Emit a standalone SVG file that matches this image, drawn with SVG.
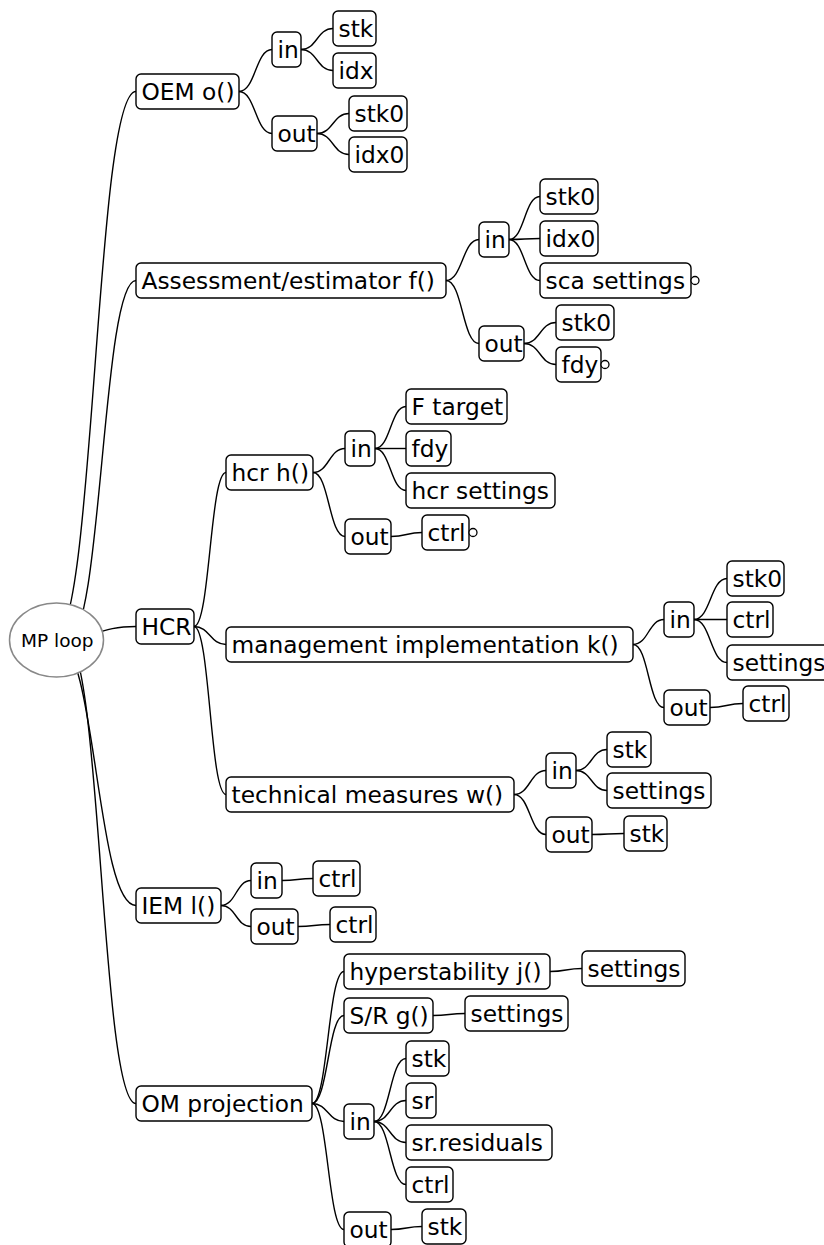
<svg xmlns="http://www.w3.org/2000/svg" width="824" height="1245" viewBox="0 0 824 1245">
<style>
.b{fill:#fff;stroke:#000;stroke-width:1.4}
.t{font-family:"DejaVu Sans",sans-serif;font-size:23.3px;fill:#000}
.c{fill:none;stroke:#000;stroke-width:1.4}
.o{fill:#fff;stroke:#000;stroke-width:1.3}
</style>
<rect width="824" height="1245" fill="#fff"/>
<g id="connectors">
<path class="c" d="M54,640 C95,640 95,91.5 136,91.5"/>
<path class="c" d="M68,640 C102,640 102,280.5 136,280.5"/>
<path class="c" d="M56.5,640 C96.25,640 96.25,626.5 136,626.5"/>
<path class="c" d="M56.5,640 C96.25,640 96.25,905.5 136,905.5"/>
<path class="c" d="M66,640 C101,640 101,1103.5 136,1103.5"/>
<path class="c" d="M239,91.5 C255.5,91.5 255.5,49.5 272,49.5"/>
<path class="c" d="M239,91.5 C255.5,91.5 255.5,133.5 272,133.5"/>
<path class="c" d="M301,49.5 C317,49.5 317,28.5 333,28.5"/>
<path class="c" d="M301,49.5 C317,49.5 317,70.5 333,70.5"/>
<path class="c" d="M317,133.5 C333,133.5 333,113.5 349,113.5"/>
<path class="c" d="M317,133.5 C333,133.5 333,154.5 349,154.5"/>
<path class="c" d="M446,280.5 C462.5,280.5 462.5,239.5 479,239.5"/>
<path class="c" d="M446,280.5 C462.5,280.5 462.5,343.5 479,343.5"/>
<path class="c" d="M509,239.5 C524.5,239.5 524.5,196.5 540,196.5"/>
<path class="c" d="M509,239.5 C524.5,239.5 524.5,238.5 540,238.5"/>
<path class="c" d="M509,239.5 C524.5,239.5 524.5,280.5 540,280.5"/>
<path class="c" d="M524,343.5 C540,343.5 540,322.5 556,322.5"/>
<path class="c" d="M524,343.5 C540,343.5 540,364.5 556,364.5"/>
<path class="c" d="M194,626.5 C210,626.5 210,472.5 226,472.5"/>
<path class="c" d="M194,626.5 C210,626.5 210,644.5 226,644.5"/>
<path class="c" d="M194,626.5 C210,626.5 210,794.5 226,794.5"/>
<path class="c" d="M313,472.5 C329,472.5 329,448.5 345,448.5"/>
<path class="c" d="M313,472.5 C329,472.5 329,536.5 345,536.5"/>
<path class="c" d="M375,448.5 C390.5,448.5 390.5,406.5 406,406.5"/>
<path class="c" d="M375,448.5 C390.5,448.5 390.5,448.5 406,448.5"/>
<path class="c" d="M375,448.5 C390.5,448.5 390.5,490.5 406,490.5"/>
<path class="c" d="M391,536.5 C406.5,536.5 406.5,532.5 422,532.5"/>
<path class="c" d="M633,644.5 C648.5,644.5 648.5,619.5 664,619.5"/>
<path class="c" d="M633,644.5 C648.5,644.5 648.5,707.5 664,707.5"/>
<path class="c" d="M694,619.5 C710.5,619.5 710.5,578.5 727,578.5"/>
<path class="c" d="M694,619.5 C710.5,619.5 710.5,619.5 727,619.5"/>
<path class="c" d="M694,619.5 C710.5,619.5 710.5,662.5 727,662.5"/>
<path class="c" d="M710,707.5 C726.5,707.5 726.5,703.5 743,703.5"/>
<path class="c" d="M514,794.5 C530,794.5 530,770.5 546,770.5"/>
<path class="c" d="M514,794.5 C530,794.5 530,834.5 546,834.5"/>
<path class="c" d="M576,770.5 C591.5,770.5 591.5,749.5 607,749.5"/>
<path class="c" d="M576,770.5 C591.5,770.5 591.5,790.5 607,790.5"/>
<path class="c" d="M592,834.5 C608,834.5 608,833.5 624,833.5"/>
<path class="c" d="M221,905.5 C236,905.5 236,880.5 251,880.5"/>
<path class="c" d="M221,905.5 C236,905.5 236,926.5 251,926.5"/>
<path class="c" d="M282,880.5 C297.5,880.5 297.5,878.5 313,878.5"/>
<path class="c" d="M298,926.5 C314,926.5 314,924.5 330,924.5"/>
<path class="c" d="M312,1103.5 C328,1103.5 328,971.5 344,971.5"/>
<path class="c" d="M312,1103.5 C328,1103.5 328,1015.5 344,1015.5"/>
<path class="c" d="M312,1103.5 C328,1103.5 328,1121.5 344,1121.5"/>
<path class="c" d="M312,1103.5 C328,1103.5 328,1229.5 344,1229.5"/>
<path class="c" d="M550,971.5 C566,971.5 566,968.5 582,968.5"/>
<path class="c" d="M433,1015.5 C449,1015.5 449,1013.5 465,1013.5"/>
<path class="c" d="M374,1121.5 C390,1121.5 390,1058.5 406,1058.5"/>
<path class="c" d="M374,1121.5 C390,1121.5 390,1100.5 406,1100.5"/>
<path class="c" d="M374,1121.5 C390,1121.5 390,1142.5 406,1142.5"/>
<path class="c" d="M374,1121.5 C390,1121.5 390,1184.5 406,1184.5"/>
<path class="c" d="M391,1229.5 C406.5,1229.5 406.5,1226.5 422,1226.5"/>
</g>
<g id="n-root"><ellipse cx="56.5" cy="640" rx="47" ry="37" fill="#fff" stroke="#888" stroke-width="1.5"/><text x="21" y="647" font-family="DejaVu Sans, sans-serif" font-size="18.5">MP loop</text></g>
<g id="n-oem"><rect class="b" x="136" y="74" width="103" height="35" rx="5"/><text class="t" x="141.5" y="100">OEM o()</text></g>
<g id="n-oem-in"><rect class="b" x="272" y="32" width="29" height="35" rx="5"/><text class="t" x="277.5" y="58">in</text></g>
<g id="n-oem-in-stk"><rect class="b" x="333" y="11" width="43" height="35" rx="5"/><text class="t" x="338.5" y="37">stk</text></g>
<g id="n-oem-in-idx"><rect class="b" x="333" y="53" width="43" height="35" rx="5"/><text class="t" x="338.5" y="79">idx</text></g>
<g id="n-oem-out"><rect class="b" x="272" y="116" width="45" height="35" rx="5"/><text class="t" x="277.5" y="142">out</text></g>
<g id="n-oem-out-stk0"><rect class="b" x="349" y="96" width="58" height="35" rx="5"/><text class="t" x="354.5" y="122">stk0</text></g>
<g id="n-oem-out-idx0"><rect class="b" x="349" y="137" width="58" height="35" rx="5"/><text class="t" x="354.5" y="163">idx0</text></g>
<g id="n-ass"><rect class="b" x="136" y="263" width="310" height="35" rx="5"/><text class="t" x="141.5" y="289">Assessment/estimator f()</text></g>
<g id="n-ass-in"><rect class="b" x="479" y="222" width="30" height="35" rx="5"/><text class="t" x="484.5" y="248">in</text></g>
<g id="n-ass-in-stk0"><rect class="b" x="540" y="179" width="58" height="35" rx="5"/><text class="t" x="545.5" y="205">stk0</text></g>
<g id="n-ass-in-idx0"><rect class="b" x="540" y="221" width="58" height="35" rx="5"/><text class="t" x="545.5" y="247">idx0</text></g>
<g id="n-ass-in-sca"><rect class="b" x="540" y="263" width="151" height="35" rx="5"/><text class="t" x="545.5" y="289">sca settings</text><circle class="o" cx="695" cy="280.5" r="4"/></g>
<g id="n-ass-out"><rect class="b" x="479" y="326" width="45" height="35" rx="5"/><text class="t" x="484.5" y="352">out</text></g>
<g id="n-ass-out-stk0"><rect class="b" x="556" y="305" width="58" height="35" rx="5"/><text class="t" x="561.5" y="331">stk0</text></g>
<g id="n-ass-out-fdy"><rect class="b" x="556" y="347" width="45" height="35" rx="5"/><text class="t" x="561.5" y="373">fdy</text><circle class="o" cx="605" cy="364.5" r="4"/></g>
<g id="n-hcr"><rect class="b" x="136" y="609" width="58" height="35" rx="5"/><text class="t" x="141.5" y="635">HCR</text></g>
<g id="n-hcr-h"><rect class="b" x="226" y="455" width="87" height="35" rx="5"/><text class="t" x="231.5" y="481">hcr h()</text></g>
<g id="n-hcr-h-in"><rect class="b" x="345" y="431" width="30" height="35" rx="5"/><text class="t" x="350.5" y="457">in</text></g>
<g id="n-hcr-h-in-ft"><rect class="b" x="406" y="389" width="101" height="35" rx="5"/><text class="t" x="411.5" y="415">F target</text></g>
<g id="n-hcr-h-in-fdy"><rect class="b" x="406" y="431" width="45" height="35" rx="5"/><text class="t" x="411.5" y="457">fdy</text></g>
<g id="n-hcr-h-in-set"><rect class="b" x="406" y="473" width="149" height="35" rx="5"/><text class="t" x="411.5" y="499">hcr settings</text></g>
<g id="n-hcr-h-out"><rect class="b" x="345" y="519" width="46" height="35" rx="5"/><text class="t" x="350.5" y="545">out</text></g>
<g id="n-hcr-h-out-ctrl"><rect class="b" x="422" y="515" width="47" height="35" rx="5"/><text class="t" x="427.5" y="541">ctrl</text><circle class="o" cx="473" cy="532.5" r="4"/></g>
<g id="n-hcr-k"><rect class="b" x="226" y="627" width="407" height="35" rx="5"/><text class="t" x="231.5" y="653">management implementation k()</text></g>
<g id="n-hcr-k-in"><rect class="b" x="664" y="602" width="30" height="35" rx="5"/><text class="t" x="669.5" y="628">in</text></g>
<g id="n-hcr-k-in-stk0"><rect class="b" x="727" y="561" width="57" height="35" rx="5"/><text class="t" x="732.5" y="587">stk0</text></g>
<g id="n-hcr-k-in-ctrl"><rect class="b" x="727" y="602" width="46" height="35" rx="5"/><text class="t" x="732.5" y="628">ctrl</text></g>
<g id="n-hcr-k-in-set"><rect class="b" x="727" y="645" width="104" height="35" rx="5"/><text class="t" x="732.5" y="671">settings</text></g>
<g id="n-hcr-k-out"><rect class="b" x="664" y="690" width="46" height="35" rx="5"/><text class="t" x="669.5" y="716">out</text></g>
<g id="n-hcr-k-out-ctrl"><rect class="b" x="743" y="686" width="46" height="35" rx="5"/><text class="t" x="748.5" y="712">ctrl</text></g>
<g id="n-hcr-w"><rect class="b" x="226" y="777" width="288" height="35" rx="5"/><text class="t" x="231.5" y="803">technical measures w()</text></g>
<g id="n-hcr-w-in"><rect class="b" x="546" y="753" width="30" height="35" rx="5"/><text class="t" x="551.5" y="779">in</text></g>
<g id="n-hcr-w-in-stk"><rect class="b" x="607" y="732" width="44" height="35" rx="5"/><text class="t" x="612.5" y="758">stk</text></g>
<g id="n-hcr-w-in-set"><rect class="b" x="607" y="773" width="104" height="35" rx="5"/><text class="t" x="612.5" y="799">settings</text></g>
<g id="n-hcr-w-out"><rect class="b" x="546" y="817" width="46" height="35" rx="5"/><text class="t" x="551.5" y="843">out</text></g>
<g id="n-hcr-w-out-stk"><rect class="b" x="624" y="816" width="43" height="35" rx="5"/><text class="t" x="629.5" y="842">stk</text></g>
<g id="n-iem"><rect class="b" x="136" y="888" width="85" height="35" rx="5"/><text class="t" x="141.5" y="914">IEM l()</text></g>
<g id="n-iem-in"><rect class="b" x="251" y="863" width="31" height="35" rx="5"/><text class="t" x="256.5" y="889">in</text></g>
<g id="n-iem-in-ctrl"><rect class="b" x="313" y="861" width="47" height="35" rx="5"/><text class="t" x="318.5" y="887">ctrl</text></g>
<g id="n-iem-out"><rect class="b" x="251" y="909" width="47" height="35" rx="5"/><text class="t" x="256.5" y="935">out</text></g>
<g id="n-iem-out-ctrl"><rect class="b" x="330" y="907" width="46" height="35" rx="5"/><text class="t" x="335.5" y="933">ctrl</text></g>
<g id="n-om"><rect class="b" x="136" y="1086" width="176" height="35" rx="5"/><text class="t" x="141.5" y="1112">OM projection</text></g>
<g id="n-om-j"><rect class="b" x="344" y="954" width="206" height="35" rx="5"/><text class="t" x="349.5" y="980">hyperstability j()</text></g>
<g id="n-om-j-set"><rect class="b" x="582" y="951" width="103" height="35" rx="5"/><text class="t" x="587.5" y="977">settings</text></g>
<g id="n-om-g"><rect class="b" x="344" y="998" width="89" height="35" rx="5"/><text class="t" x="349.5" y="1024">S/R g()</text></g>
<g id="n-om-g-set"><rect class="b" x="465" y="996" width="103" height="35" rx="5"/><text class="t" x="470.5" y="1022">settings</text></g>
<g id="n-om-in"><rect class="b" x="344" y="1104" width="30" height="35" rx="5"/><text class="t" x="349.5" y="1130">in</text></g>
<g id="n-om-in-stk"><rect class="b" x="406" y="1041" width="43" height="35" rx="5"/><text class="t" x="411.5" y="1067">stk</text></g>
<g id="n-om-in-sr"><rect class="b" x="406" y="1083" width="30" height="35" rx="5"/><text class="t" x="411.5" y="1109">sr</text></g>
<g id="n-om-in-res"><rect class="b" x="406" y="1125" width="146" height="35" rx="5"/><text class="t" x="411.5" y="1151">sr.residuals</text></g>
<g id="n-om-in-ctrl"><rect class="b" x="406" y="1167" width="47" height="35" rx="5"/><text class="t" x="411.5" y="1193">ctrl</text></g>
<g id="n-om-out"><rect class="b" x="344" y="1212" width="47" height="35" rx="5"/><text class="t" x="349.5" y="1238">out</text></g>
<g id="n-om-out-stk"><rect class="b" x="422" y="1209" width="44" height="35" rx="5"/><text class="t" x="427.5" y="1235">stk</text></g>
</svg>
